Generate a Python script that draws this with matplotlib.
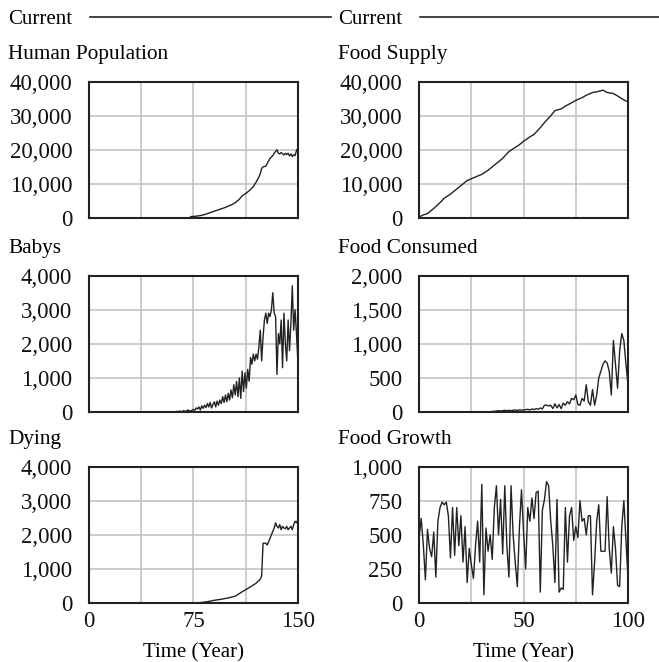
import matplotlib
matplotlib.use('Agg')
from matplotlib import pyplot as plt
from matplotlib.lines import Line2D

plt.rcParams['font.family'] = ['Liberation Serif', 'DejaVu Serif']

# Human Population (Year 0-150)
pop_t = [73, 76, 80, 83, 85, 88, 90, 93, 95, 98, 100, 103, 105, 108, 110, 113, 115, 118, 120,
         122, 123, 124, 125, 127, 128, 130, 132, 133, 135, 136, 137, 138, 140, 141, 142, 143,
         144, 145, 146, 147, 148, 149, 150]
pop_v = [400, 500, 700, 1000, 1300, 1700, 2000, 2400, 2700, 3100, 3500, 4000, 4500, 5500, 6500,
         7300, 8000, 9200, 10500, 12000, 13000, 14500, 15000, 15200, 16000, 17500, 18300, 19000,
         20000, 19000, 18800, 19200, 18500, 19000, 18600, 19000, 18200, 18800, 18000, 18600,
         18300, 19800, 20500]

# Babys (Year 60-150)
baby_t = list(range(60, 151))
baby_v = [0, 0, 10, 20, 10, 30, 10, 20, 40, 20, 30, 60, 40, 30, 50,
          80, 50, 120, 90, 150, 60, 180, 110, 200, 130, 250, 150, 280, 120, 220,
          300, 150, 320, 200, 350, 250, 450, 280, 500, 300, 550, 350, 650, 420, 800,
          500, 900, 450, 1000, 400, 1200, 600, 1150, 700, 1250, 900, 1600, 1400, 1700, 1500,
          1700, 1550, 1900, 2400, 1500, 2200, 2700, 2900, 2600, 2900, 2800, 3000, 3500, 2900, 2800,
          1100, 2300, 2000, 2700, 1300, 2900, 2000, 1500, 2700, 1800, 2600, 3700, 2400, 3000, 2300,
          1500]

# Dying (Year 0-150)
dying_t = [79, 85, 90, 95, 100, 105, 110, 115, 120, 123, 124, 125, 126, 127, 128, 130, 132, 133,
           134, 135, 136, 137, 138, 139, 140, 141, 142, 143, 144, 145, 146, 147, 148, 149, 150]
dying_v = [5, 40, 80, 110, 150, 200, 330, 450, 580, 700, 800, 1750, 1760, 1750, 1700, 1900, 2100,
           2200, 2350, 2250, 2200, 2300, 2150, 2250, 2200, 2180, 2250, 2150, 2200, 2250, 2150,
           2300, 2400, 2350, 2450]

# Food Supply (Year 0-100)
supply_t = [0, 2, 4, 5, 7, 10, 12, 15, 18, 20, 23, 25, 28, 30, 33, 35, 38, 40, 43, 45, 48, 50,
            53, 55, 58, 60, 63, 65, 68, 70, 73, 75, 78, 80, 83, 85, 88, 90, 93, 95, 97, 100]
supply_v = [300, 900, 1300, 1800, 2800, 4500, 5800, 7000, 8500, 9500, 11000, 11500, 12300, 12800,
            14000, 15000, 16500, 17500, 19500, 20300, 21500, 22500, 23800, 24500, 26500, 28000,
            30000, 31500, 32000, 32800, 33800, 34500, 35300, 36000, 36800, 37000, 37500, 36800,
            36500, 35800, 35000, 34000]

# Food Consumed (Year 35-100)
cons_t = list(range(35, 101))
cons_v = [10, 10, 15, 20, 15, 20, 25, 20, 25, 20, 25, 30, 25, 30, 30,
          30, 35, 40, 30, 45, 35, 50, 40, 60, 45, 100, 100, 90, 100, 50,
          120, 60, 110, 50, 130, 100, 150, 120, 200, 180, 250, 110, 100, 200, 160,
          400, 150, 100, 330, 100, 250, 500, 600, 700, 750, 720, 600, 250, 1050, 700,
          350, 900, 1150, 1050, 700, 400]

# Food Growth (Year 0-100)
growth_t = list(range(0, 101))
growth_v = [480, 620, 430, 170, 540, 400, 340, 520, 190, 600,
            700, 740, 720, 740, 640, 330, 700, 350, 700, 420,
            640, 300, 560, 150, 400, 280, 180, 420, 600, 300,
            870, 60, 550, 380, 500, 320, 700, 860, 500, 760,
            360, 860, 420, 190, 860, 500, 300, 120, 550, 830,
            520, 250, 700, 600, 770, 620, 810, 820, 80, 680,
            760, 890, 860, 600, 420, 150, 760, 80, 110, 100,
            700, 300, 640, 700, 460, 560, 480, 750, 600, 620,
            500, 640, 640, 60, 300, 600, 720, 380, 380, 380,
            780, 400, 220, 560, 400, 130, 120, 560, 750, 460, 180]

panels = [
    ('Human Population', pop_t, pop_v, 150, 40000, 'left', 0.6707),
    ('Babys', baby_t, baby_v, 150, 4000, 'left', 0.3776),
    ('Dying', dying_t, dying_v, 150, 4000, 'left', 0.0891),
    ('Food Supply', supply_t, supply_v, 100, 40000, 'right', 0.6707),
    ('Food Consumed', cons_t, cons_v, 100, 2000, 'right', 0.3776),
    ('Food Growth', growth_t, growth_v, 100, 1000, 'right', 0.0891),
]

fig = plt.figure(figsize=(6.59, 6.62), dpi=100)

for title, t, v, xmax, ymax, col, bottom in panels:
    left = 0.135 if col == 'left' else 0.636
    ax = fig.add_axes([left, bottom, 0.317, 0.206])
    ax.plot(t, v, color='#222222', lw=1.0)
    ax.set_xlim(0, xmax)
    ax.set_ylim(0, ymax)
    ax.set_xticks([xmax * i / 4 for i in range(5)])
    ax.set_yticks([ymax * i / 4 for i in range(5)])
    ax.set_yticklabels(['{:,}'.format(int(ymax * i / 4)) for i in range(5)])
    if bottom < 0.2:
        ax.set_xticklabels(['0', '', '{:g}'.format(xmax / 2), '', '{:g}'.format(xmax)])
        ax.set_xlabel('Time (Year)', fontsize=15, labelpad=8)
    else:
        ax.set_xticklabels([])
    ax.grid(True, color='#c0c0c0', lw=1.1)
    ax.tick_params(length=0, labelsize=16.5, colors='#111111')
    ax.tick_params(axis='y', pad=12)
    ax.tick_params(axis='x', pad=6)
    for s in ax.spines.values():
        s.set_linewidth(1.5)
        s.set_color('#222222')
    tx = 8 / 659 if col == 'left' else 338 / 659
    fig.text(tx, bottom + 0.206 + 0.041, title, fontsize=15.3, va='center', ha='left')

# "Current" headers with line
for x0, x1, x2 in [(8, 90, 331), (338, 420, 659)]:
    fig.text(x0 / 659, 1 - 19 / 662, 'Current', fontsize=15, va='center', ha='left')
    fig.add_artist(Line2D([x1 / 659, x2 / 659], [1 - 17 / 662, 1 - 17 / 662],
                          transform=fig.transFigure, color='#222222', lw=1.2))

fig.savefig('out.png', dpi=100)
